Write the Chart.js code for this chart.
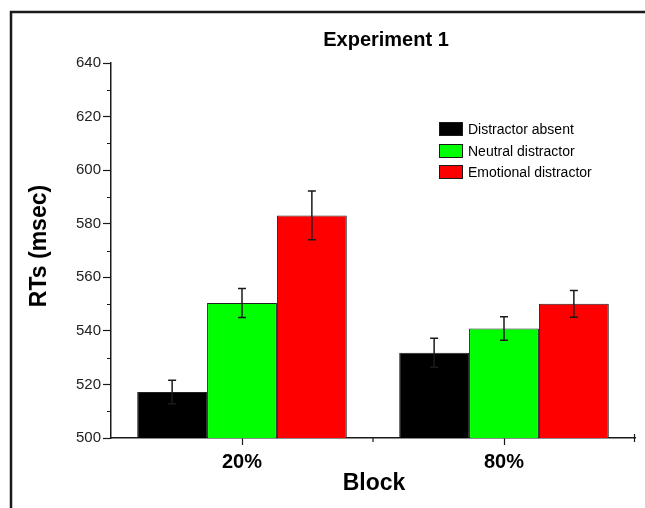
<!DOCTYPE html>
<html>
<head>
<meta charset="utf-8">
<script src="https://cdn.jsdelivr.net/npm/chart.js@4"></script>
<style>
  html, body { margin: 0; padding: 0; background: #fff; }
  #wrap { width: 645px; height: 508px; position: relative; }
</style>
</head>
<body>
<div id="wrap"><canvas id="rtChart"></canvas></div>
<script>
// Data
const blocks = ['20%', '80%'];
const seriesNames = ['Distractor absent', 'Neutral distractor', 'Emotional distractor'];
const absentRT = [517.2, 531.8];
const neutralRT = [550.4, 540.9];
const emotionalRT = [583.1, 550.1];
const absentErr = [4.4, 5.4];
const neutralErr = [5.4, 4.4];
const emotionalErr = [9.1, 5.0];
const yTicks = [500, 520, 540, 560, 580, 600, 620, 640];

const colors = ['#000000', '#00ff00', '#ff0000'];
const ink = '#1a1a1a';

// Error bars, minor ticks, titles, legend and frame drawn on top of the bars
const extrasPlugin = {
    id: 'extras',
    afterDatasetsDraw(chart) {
        const ctx = chart.ctx;
        const y = chart.scales.y;
        const errs = [absentErr, neutralErr, emotionalErr];
        ctx.save();
        ctx.strokeStyle = ink;
        ctx.lineWidth = 1.5;
        chart.data.datasets.forEach((ds, i) => {
            chart.getDatasetMeta(i).data.forEach((bar, j) => {
                const v = ds.data[j];
                const top = y.getPixelForValue(v + errs[i][j]);
                const bot = y.getPixelForValue(v - errs[i][j]);
                ctx.beginPath();
                ctx.moveTo(bar.x, top); ctx.lineTo(bar.x, bot);
                ctx.moveTo(bar.x - 4, top); ctx.lineTo(bar.x + 4, top);
                ctx.moveTo(bar.x - 4, bot); ctx.lineTo(bar.x + 4, bot);
                ctx.stroke();
            });
        });
        ctx.restore();
    },
    afterDraw(chart) {
        const ctx = chart.ctx;
        const area = chart.chartArea;
        const x = chart.scales.x;
        const y = chart.scales.y;
        ctx.save();

        // frame around the figure (left and top edges)
        ctx.strokeStyle = ink;
        ctx.lineWidth = 2.5;
        ctx.beginPath();
        ctx.moveTo(11, 508); ctx.lineTo(11, 12); ctx.lineTo(645, 12);
        ctx.stroke();

        // minor ticks
        ctx.lineWidth = 1.2;
        ctx.beginPath();
        for (let i = 0; i < yTicks.length - 1; i++) {
            const py = Math.round(y.getPixelForValue((yTicks[i] + yTicks[i + 1]) / 2)) + 0.5;
            ctx.moveTo(area.left - 4, py); ctx.lineTo(area.left, py);
        }
        const half = (x.getPixelForValue(1) - x.getPixelForValue(0)) / 2;
        const bx = [x.getPixelForValue(0) + half, area.right - 0.5];
        bx.forEach(px => {
            ctx.moveTo(px, area.bottom); ctx.lineTo(px, area.bottom + 4);
        });
        ctx.moveTo(area.right - 0.5, area.bottom); ctx.lineTo(area.right - 0.5, area.bottom - 4);
        ctx.stroke();

        // titles
        ctx.fillStyle = '#000';
        ctx.textAlign = 'center';
        ctx.textBaseline = 'middle';
        ctx.font = 'bold 20px "Liberation Sans", Arial, sans-serif';
        ctx.fillText('Experiment 1', 386, 40);
        ctx.font = 'bold 23px "Liberation Sans", Arial, sans-serif';
        ctx.fillText('Block', 374, 484);
        ctx.save();
        ctx.translate(40, 246);
        ctx.rotate(-Math.PI / 2);
        ctx.fillText('RTs (msec)', 0, 0);
        ctx.restore();

        // legend
        ctx.textAlign = 'left';
        ctx.font = '14px "Liberation Sans", Arial, sans-serif';
        const ly = [129, 151, 172];
        seriesNames.forEach((name, i) => {
            ctx.fillStyle = colors[i];
            ctx.fillRect(439, ly[i] - 7, 24, 14);
            ctx.strokeStyle = ink;
            ctx.lineWidth = 1;
            ctx.strokeRect(439.5, ly[i] - 6.5, 23, 13);
            ctx.fillStyle = '#000';
            ctx.fillText(name, 468, ly[i] + 1);
        });
        ctx.restore();
    }
};

const datasets = [absentRT, neutralRT, emotionalRT].map((vals, i) => ({
    label: seriesNames[i],
    data: vals,
    backgroundColor: colors[i],
    borderColor: '#222',
    borderWidth: 1,
    categoryPercentage: 0.8,
    barPercentage: 1.0
}));

new Chart(document.getElementById('rtChart'), {
    type: 'bar',
    data: { labels: blocks, datasets },
    plugins: [extrasPlugin],
    options: {
        responsive: true,
        maintainAspectRatio: false,
        animation: false,
        layout: { padding: { left: 0, right: 10, top: 63, bottom: 0 } },
        plugins: {
            legend: { display: false },
            title: { display: false },
            tooltip: { enabled: false }
        },
        scales: {
            x: {
                afterFit: s => { s.height = 70; },
                grid: { offset: false, drawOnChartArea: false, tickLength: 7, tickColor: ink, tickWidth: 1.2 },
                border: { color: ink, width: 1.5 },
                ticks: {
                    color: '#000',
                    padding: 5,
                    font: { family: '"Liberation Sans", Arial, sans-serif', size: 20, weight: 'bold' }
                }
            },
            y: {
                min: 500,
                max: 640,
                afterFit: s => { s.width = 111; },
                afterBuildTicks: s => { s.ticks = yTicks.map(v => ({ value: v })); },
                grid: { drawOnChartArea: false, tickLength: 8, tickColor: ink, tickWidth: 1.2 },
                border: { color: ink, width: 1.5 },
                ticks: {
                    color: '#222',
                    padding: 2,
                    font: { family: '"Liberation Sans", Arial, sans-serif', size: 15 }
                }
            }
        }
    }
});
</script>
</body>
</html>
